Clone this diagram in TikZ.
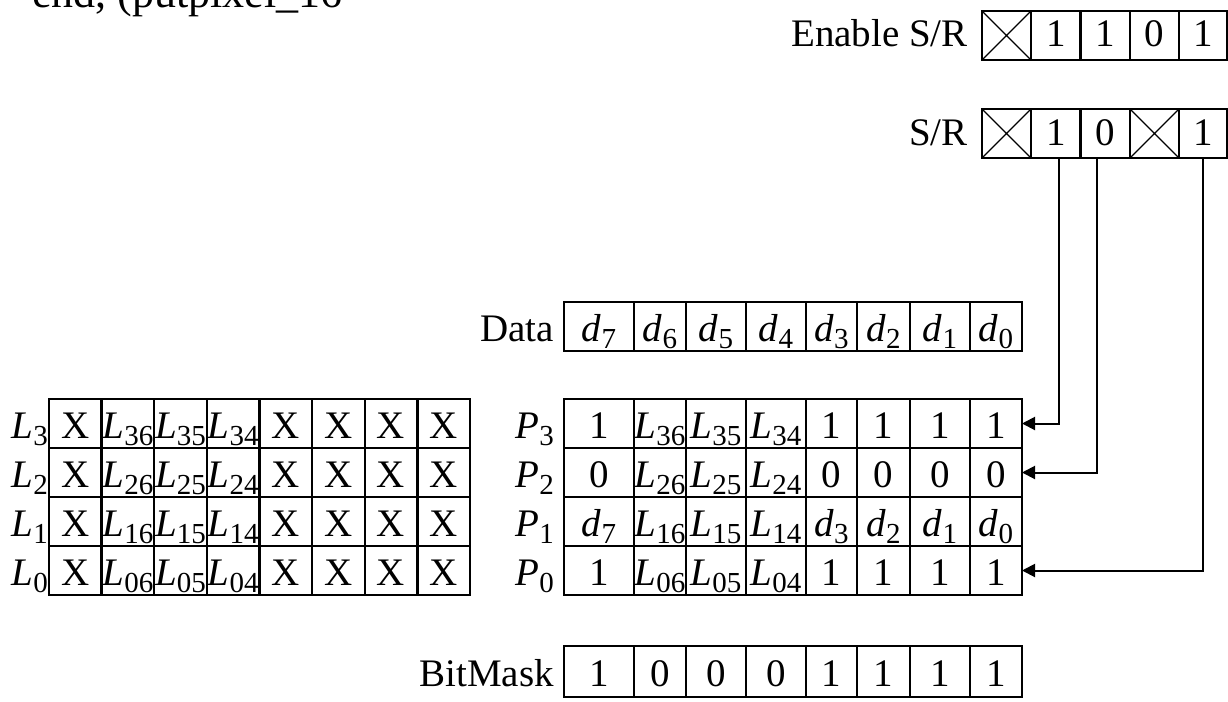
\documentclass[tikz,border=0pt]{standalone}
\usepackage{fontspec}
\setmainfont{Liberation Serif}
\usetikzlibrary{arrows.meta}
\newcommand\Lsub[2]{\textit{#1}\raisebox{-7pt}{\fontsize{29}{30}\selectfont #2}}
\newcommand\cellrow[5]{% #1 name, #2 top, #3 bottom, #4 baseline offset, #5 list xa/xb/text
  \foreach \xa/\xb/\ct [count=\i] in {#5} {
    \node[gridcell, minimum width={(\xb-\xa)*1pt}, minimum height={(#3-#2)*1pt}] (#1-\i) at ({(\xa+\xb)/2},{(#2+#3)/2}) {};
    \node[celltext] (#1-\i-t) at ({(\xa+\xb)/2},{#2+#4}) {\makebox[0pt][c]{\ct}};
  }
}
\tikzset{
  gridcell/.style={draw, line width=2.4pt, inner sep=0pt, outer sep=0pt},
  celltext/.style={inner sep=0pt, anchor=base, font=\fontsize{39}{40}\selectfont},
  lbl/.style={inner sep=0pt, anchor=base east, font=\fontsize{39}{40}\selectfont},
  conn/.style={line width=2pt, -{Triangle[length=13pt,width=13pt]}},
  crossline/.style={line width=1.2pt},
}
\begin{document}
\begin{tikzpicture}[x=1pt,y=-1pt]
\useasboundingbox (0,0) rectangle (1228,701);
% cut-off text at top
\node[anchor=base west, inner sep=0pt, font=\fontsize{44}{44}\selectfont] (code) at (32,8) {end, (putpixel\_16};
% Enable S/R
\node[lbl] (lenable) at (968,47) {Enable S/R};
\cellrow{en}{11}{60}{36}{982/1031/{}, 1031/1080.5/1, 1080.5/1130/1, 1130/1179/0, 1179/1227/1}
\draw[crossline] (en-1.north west) -- (en-1.south east) (en-1.south west) -- (en-1.north east);
% S/R
\node[lbl] (lsr) at (968,145) {S/R};
\cellrow{sr}{109}{158}{36}{982/1031/{}, 1031/1080.5/1, 1080.5/1130/0, 1130/1179/{}, 1179/1227/1}
\draw[crossline] (sr-1.north west) -- (sr-1.south east) (sr-1.south west) -- (sr-1.north east);
\draw[crossline] (sr-4.north west) -- (sr-4.south east) (sr-4.south west) -- (sr-4.north east);
% Data
\node[lbl] (ldata) at (554,341) {Data};
\cellrow{da}{302}{351}{39}{564/634/{\Lsub{d}{7}}, 634/686/{\Lsub{d}{6}}, 686/746/{\Lsub{d}{5}}, 746/806/{\Lsub{d}{4}}, 806/857/{\Lsub{d}{3}}, 857/910/{\Lsub{d}{2}}, 910/970/{\Lsub{d}{1}}, 970/1022/{\Lsub{d}{0}}}
% L grid
\node[lbl] (ll3) at (48,438) {\Lsub{L}{3}};
\node[lbl] (ll2) at (48,487) {\Lsub{L}{2}};
\node[lbl] (ll1) at (48,536) {\Lsub{L}{1}};
\node[lbl] (ll0) at (48,585) {\Lsub{L}{0}};
\cellrow{l3}{399}{448}{39}{49/101.6/X, 101.6/154.25/{\Lsub{L}{36}}, 154.25/206.9/{\Lsub{L}{35}}, 206.9/259.5/{\Lsub{L}{34}}, 259.5/312.1/X, 312.1/364.75/X, 364.75/417.4/X, 417.4/470/X}
\cellrow{l2}{448}{497}{39}{49/101.6/X, 101.6/154.25/{\Lsub{L}{26}}, 154.25/206.9/{\Lsub{L}{25}}, 206.9/259.5/{\Lsub{L}{24}}, 259.5/312.1/X, 312.1/364.75/X, 364.75/417.4/X, 417.4/470/X}
\cellrow{l1}{497}{546}{39}{49/101.6/X, 101.6/154.25/{\Lsub{L}{16}}, 154.25/206.9/{\Lsub{L}{15}}, 206.9/259.5/{\Lsub{L}{14}}, 259.5/312.1/X, 312.1/364.75/X, 364.75/417.4/X, 417.4/470/X}
\cellrow{l0}{546}{595}{39}{49/101.6/X, 101.6/154.25/{\Lsub{L}{06}}, 154.25/206.9/{\Lsub{L}{05}}, 206.9/259.5/{\Lsub{L}{04}}, 259.5/312.1/X, 312.1/364.75/X, 364.75/417.4/X, 417.4/470/X}
% P grid
\node[lbl] (lp3) at (554,438) {\Lsub{P}{3}};
\node[lbl] (lp2) at (554,487) {\Lsub{P}{2}};
\node[lbl] (lp1) at (554,536) {\Lsub{P}{1}};
\node[lbl] (lp0) at (554,585) {\Lsub{P}{0}};
\cellrow{p3}{399}{448}{39}{564/634/1, 634/686/{\Lsub{L}{36}}, 686/746/{\Lsub{L}{35}}, 746/806/{\Lsub{L}{34}}, 806/857/1, 857/910/1, 910/970/1, 970/1022/1}
\cellrow{p2}{448}{497}{39}{564/634/0, 634/686/{\Lsub{L}{26}}, 686/746/{\Lsub{L}{25}}, 746/806/{\Lsub{L}{24}}, 806/857/0, 857/910/0, 910/970/0, 970/1022/0}
\cellrow{p1}{497}{546}{39}{564/634/{\Lsub{d}{7}}, 634/686/{\Lsub{L}{16}}, 686/746/{\Lsub{L}{15}}, 746/806/{\Lsub{L}{14}}, 806/857/{\Lsub{d}{3}}, 857/910/{\Lsub{d}{2}}, 910/970/{\Lsub{d}{1}}, 970/1022/{\Lsub{d}{0}}}
\cellrow{p0}{546}{595}{39}{564/634/1, 634/686/{\Lsub{L}{06}}, 686/746/{\Lsub{L}{05}}, 746/806/{\Lsub{L}{04}}, 806/857/1, 857/910/1, 910/970/1, 970/1022/1}
% BitMask
\node[lbl] (lbm) at (554,686) {BitMask};
\cellrow{bm}{646}{697}{40}{564/634/1, 634/686/0, 686/746/0, 746/806/0, 806/857/1, 857/910/1, 910/970/1, 970/1022/1}
% connectors
\draw[conn] ([xshift=3pt]sr-2.south) |- (p3-8.east);
\draw[conn] ([xshift=-8pt]sr-3.south) |- (p2-8.east);
\draw[conn] (sr-5.south) |- (p0-8.east);
\end{tikzpicture}
\end{document}
